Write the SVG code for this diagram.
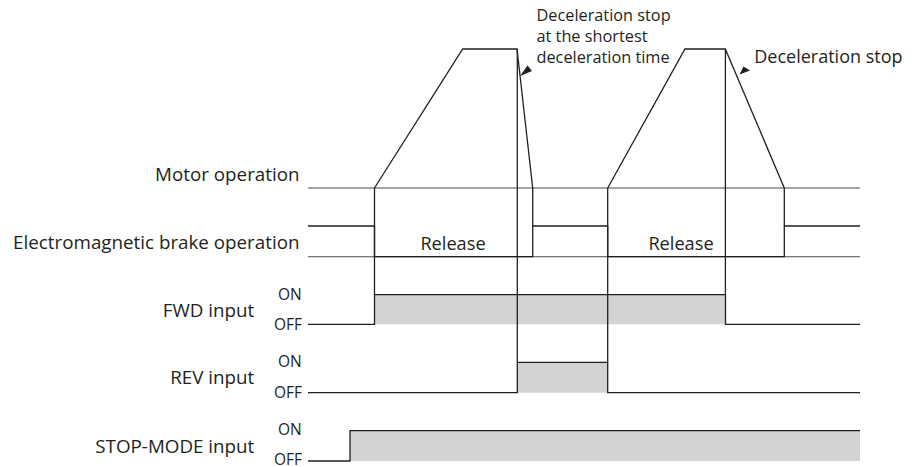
<svg xmlns="http://www.w3.org/2000/svg" width="912" height="467" viewBox="0 0 912 467">
<style>
text{font-family:"Open Sans","Liberation Sans",sans-serif;fill:#231f20}
.lbl{font-size:18.8px;text-anchor:end}
.st{font-size:15.5px;text-anchor:end}
.rel{font-size:18.2px;text-anchor:middle}
.ann{font-size:16.3px}
.sig{fill:none;stroke:#231f20;stroke-width:1.3;stroke-linejoin:miter}
.base{fill:none;stroke:#4d4d4f;stroke-width:1.1}
.fill{fill:#d1d3d4;stroke:none}
.arw{fill:#231f20;stroke:none}
</style>
<rect width="912" height="467" fill="#fff"/>
<g id="motor">
<text class="lbl" x="299.5" y="181">Motor operation</text>
<line class="base" x1="308" y1="188" x2="860" y2="188"/>
<polyline class="sig" points="374.5,188 462.7,49 517,49 532.7,188"/>
<polyline class="sig" points="607.7,188 685,49 725.3,49 784.3,188"/>
</g>
<g id="brake">
<text class="lbl" x="299.5" y="249">Electromagnetic brake operation</text>
<line class="base" x1="308" y1="256.7" x2="860" y2="256.7"/>
<polyline class="sig" points="308,226 374.5,226 374.5,256.7 532.7,256.7 532.7,226 607.7,226 607.7,256.7 784.3,256.7 784.3,226 860,226"/>
<text class="rel" x="453" y="250">Release</text>
<text class="rel" x="681" y="250">Release</text>
</g>
<g id="fwd">
<text class="lbl" x="254.3" y="316.5">FWD input</text>
<text class="st" x="301.7" y="299.5">ON</text>
<text class="st" x="302" y="329.5">OFF</text>
<rect class="fill" x="374.5" y="294.7" width="351" height="29.6"/>
<polyline class="sig" points="308,324.3 374.5,324.3 374.5,294.7 725.5,294.7 725.5,324.3 860,324.3"/>
</g>
<g id="rev">
<text class="lbl" x="254.3" y="384.3">REV input</text>
<text class="st" x="301.7" y="367.3">ON</text>
<text class="st" x="302" y="397.5">OFF</text>
<rect class="fill" x="517.3" y="362.3" width="90.4" height="30.4"/>
<polyline class="sig" points="308,392.7 517.3,392.7 517.3,362.3 607.7,362.3 607.7,392.7 860,392.7"/>
</g>
<g id="stopmode">
<text class="lbl" x="254.3" y="452.5">STOP-MODE input</text>
<text class="st" x="301.7" y="435.3">ON</text>
<text class="st" x="302" y="464.5">OFF</text>
<rect class="fill" x="350" y="430.7" width="510" height="30.3"/>
<polyline class="sig" points="308,461 350,461 350,430.7 860,430.7"/>
</g>
<g id="annotations">
<text class="ann" x="536.5" y="20.7">Deceleration stop</text>
<text class="ann" x="536.5" y="42">at the shortest</text>
<text class="ann" x="536.5" y="63.3">deceleration time</text>
<text style="font-size:18px" x="754.3" y="63.3">Deceleration stop</text>
</g>
<g id="connectors">
<line class="sig" x1="374.5" y1="188" x2="374.5" y2="294.7"/>
<line class="sig" x1="517.3" y1="49" x2="517.3" y2="362.3"/>
<line class="sig" x1="532.7" y1="188" x2="532.7" y2="226"/>
<line class="sig" x1="607.7" y1="188" x2="607.7" y2="362.3"/>
<line class="sig" x1="725.4" y1="49" x2="725.4" y2="294.7"/>
<line class="sig" x1="784.3" y1="188" x2="784.3" y2="226"/>
<polygon class="arw" points="520,76 527.5,65.5 532,71"/>
<polygon class="arw" points="739.5,74.5 743.5,66.5 750,70.5"/>
</g>
</svg>
